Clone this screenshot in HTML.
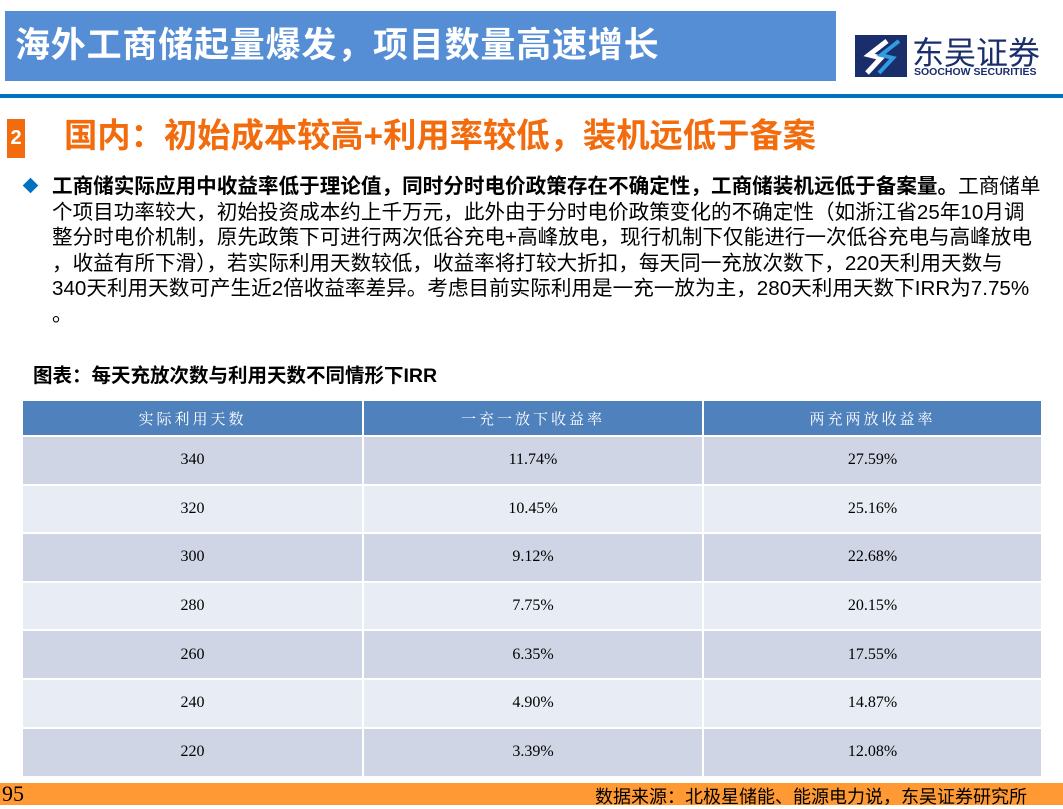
<!DOCTYPE html>
<html><head><meta charset="utf-8"><style>
*{margin:0;padding:0;box-sizing:border-box}
body{width:1063px;height:805px;position:relative;background:#fff;font-family:"Liberation Sans","Noto Sans CJK SC",sans-serif;overflow:hidden}
.hdr{position:absolute;left:5px;top:11px;width:831px;height:70px;background:#558ed5;color:#fff;font-size:35px;font-weight:bold;line-height:70px;padding-left:10px;letter-spacing:0.8px}
.logo{position:absolute;left:855px;top:33px}
.line{position:absolute;left:0;top:94px;width:1063px;height:4px;background:#0070c0}
.num{position:absolute;left:7px;top:119px;width:18px;height:39px;background:#f26c0d;color:#fff;font-size:20px;font-weight:bold;text-align:center;line-height:39px}
.t2{position:absolute;left:64px;top:115px;font-size:33.3px;font-weight:bold;color:#f26c0d;line-height:44px}
.body{position:absolute;left:52px;top:174px;width:1010px;font-size:20.6px;line-height:25.5px;color:#000;white-space:nowrap}
.dia{position:absolute;left:25px;top:180px;width:11px;height:11px;background:#0070c0;transform:rotate(45deg)}
.cap{position:absolute;left:33px;top:359px;font-size:19.5px;font-weight:bold}
table{position:absolute;left:23px;top:401px;width:1018px;border-collapse:collapse;font-family:"Liberation Serif","Noto Serif CJK SC",serif;font-size:16px;text-align:center}
th{background:#4f81bd;color:#fff;font-weight:normal;height:35px;border-right:2px solid #fff;letter-spacing:3px;font-size:15px}
td{height:48.6px;border:1px solid #fff;border-width:2px 2px 0 0}
tr.a td{background:#cfd5e5} tr.b td{background:#e8ecf4}
th:last-child,td:last-child{border-right:none}
.foot{position:absolute;left:0;top:783px;width:1063px;height:22px;background:#ff9933}
.pg{position:absolute;left:2px;top:781px;font-family:"Liberation Serif",serif;font-size:22px}
.src{position:absolute;right:36px;top:783px;font-size:18px}
</style></head><body>
<div class="hdr">海外工商储起量爆发，项目数量高速增长</div>
<div class="logo"><svg width="52" height="44"><rect x="0" y="2" width="52" height="42" fill="#1a2e6c"/><path d="M32 8 L14 22 L26 25 L12 40" stroke="#fff" stroke-width="5" fill="none"/><path d="M44 8 L26 22 L38 25 L24 40" stroke="#2f9de0" stroke-width="4" fill="none"/></svg></div>
<div style="position:absolute;left:912px;top:28px;font-size:32px;color:#1a2e6c">东吴证券</div>
<div style="position:absolute;left:914px;top:66px;font-size:10.5px;font-weight:bold;color:#1a2e6c">SOOCHOW SECURITIES</div>
<div class="line"></div>
<div class="num">2</div>
<div class="t2">国内：初始成本较高+利用率较低，装机远低于备案</div>
<div class="dia"></div>
<div class="body"><b>工商储实际应用中收益率低于理论值，同时分时电价政策存在不确定性，工商储装机远低于备案量。</b>工商储单<br>个项目功率较大，初始投资成本约上千万元，此外由于分时电价政策变化的不确定性（如浙江省25年10月调<br>整分时电价机制，原先政策下可进行两次低谷充电+高峰放电，现行机制下仅能进行一次低谷充电与高峰放电<br>，收益有所下滑），若实际利用天数较低，收益率将打较大折扣，每天同一充放次数下，220天利用天数与<br>340天利用天数可产生近2倍收益率差异。考虑目前实际利用是一充一放为主，280天利用天数下IRR为7.75%<br>。</div>
<div class="cap">图表：每天充放次数与利用天数不同情形下IRR</div>
<table>
<tr><th style="width:340px">实际利用天数</th><th style="width:340px">一充一放下收益率</th><th>两充两放收益率</th></tr>
<tr class="a"><td>340</td><td>11.74%</td><td>27.59%</td></tr>
<tr class="b"><td>320</td><td>10.45%</td><td>25.16%</td></tr>
<tr class="a"><td>300</td><td>9.12%</td><td>22.68%</td></tr>
<tr class="b"><td>280</td><td>7.75%</td><td>20.15%</td></tr>
<tr class="a"><td>260</td><td>6.35%</td><td>17.55%</td></tr>
<tr class="b"><td>240</td><td>4.90%</td><td>14.87%</td></tr>
<tr class="a"><td>220</td><td>3.39%</td><td>12.08%</td></tr>
</table>
<div class="foot"></div>
<div class="pg">95</div>
<div class="src">数据来源：北极星储能、能源电力说，东吴证券研究所</div>
</body></html>
